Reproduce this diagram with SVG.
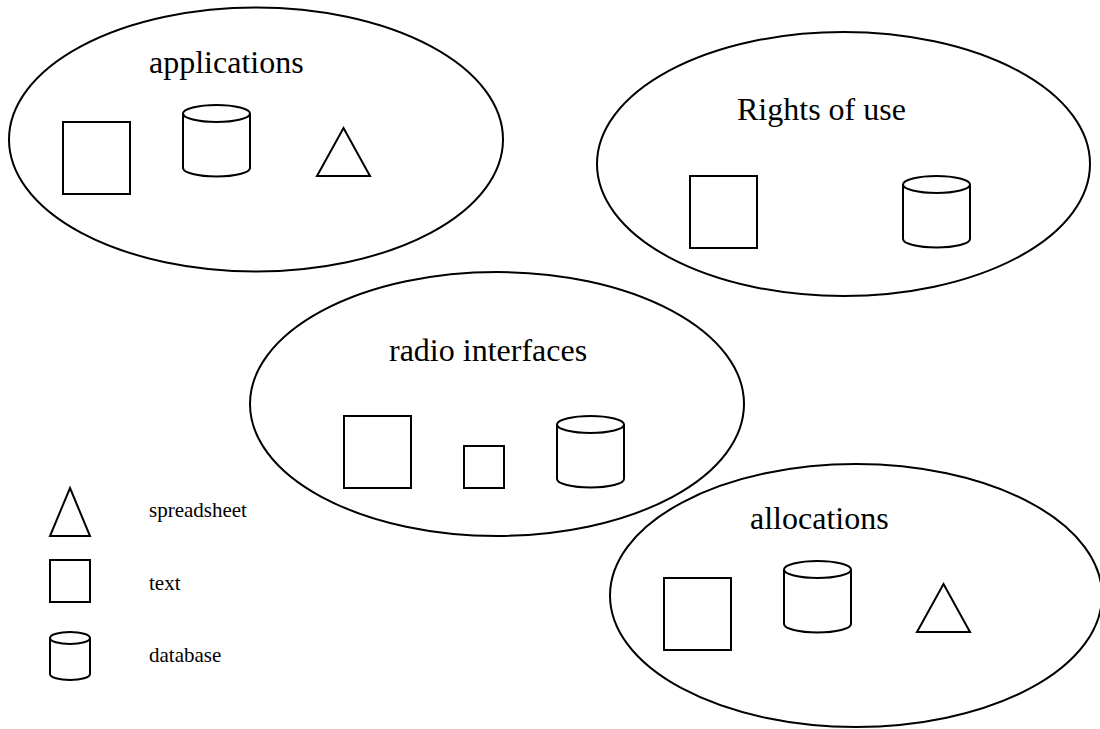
<svg xmlns="http://www.w3.org/2000/svg" width="1100" height="729" viewBox="0 0 1100 729">
<style>
.s{fill:none;stroke:#000;stroke-width:2}
.l{font-family:"Liberation Serif","Times New Roman",serif;font-size:32px;fill:#000}
.k{font-family:"Liberation Serif","Times New Roman",serif;font-size:21px;fill:#000}
</style>
<defs>
<path id="cyl" class="s" d="M0 8.500C0 3.800 15 0 33.500 0S67 3.800 67 8.500S52 17 33.500 17S0 13.200 0 8.500V63C0 67.700 15 71.500 33.500 71.500S67 67.700 67 63V8.500"/>
<rect id="sq" class="s" width="67" height="72"/>
<path id="tri" class="s" d="M26.500 0L53 48H0Z"/>
</defs>
<rect width="1100" height="729" fill="#fff"/>
<g id="applications">
<ellipse class="s" cx="256" cy="139.500" rx="247" ry="132"/>
<text class="l" x="149" y="73">applications</text>
<use href="#sq" x="63" y="122"/><use href="#cyl" x="183" y="105"/><use href="#tri" x="317" y="128"/>
</g>
<g id="rights-of-use">
<ellipse class="s" cx="843.500" cy="164" rx="246.500" ry="132"/>
<text class="l" x="737" y="120">Rights of use</text>
<use href="#sq" x="690" y="176"/><use href="#cyl" x="903" y="176"/>
</g>
<g id="radio-interfaces">
<ellipse class="s" cx="497" cy="404" rx="247" ry="132"/>
<text class="l" x="389" y="361">radio interfaces</text>
<use href="#sq" x="344" y="416"/>
<rect class="s" x="464" y="446" width="40" height="42"/>
<use href="#cyl" x="557" y="416"/>
</g>
<g id="allocations">
<ellipse class="s" cx="856" cy="595.500" rx="246" ry="131.500"/>
<text class="l" x="750" y="528.500">allocations</text>
<use href="#sq" x="664" y="578"/><use href="#cyl" x="784" y="561"/><use href="#tri" x="917" y="584"/>
</g>
<g id="legend-spreadsheet">
<path class="s" d="M70 488L90 536H50Z"/>
<text class="k" x="149" y="517">spreadsheet</text>
</g>
<g id="legend-text">
<rect class="s" x="50" y="560" width="40" height="42"/>
<text class="k" x="149" y="590">text</text>
</g>
<g id="legend-database">
<path class="s" d="M50 638C50 634.500 59 632 70 632S90 634.500 90 638S81 644 70 644S50 641.500 50 638V674C50 677.500 59 680 70 680S90 677.500 90 674V638"/>
<text class="k" x="149" y="662">database</text>
</g>
<g id="connectors"/>
</svg>
